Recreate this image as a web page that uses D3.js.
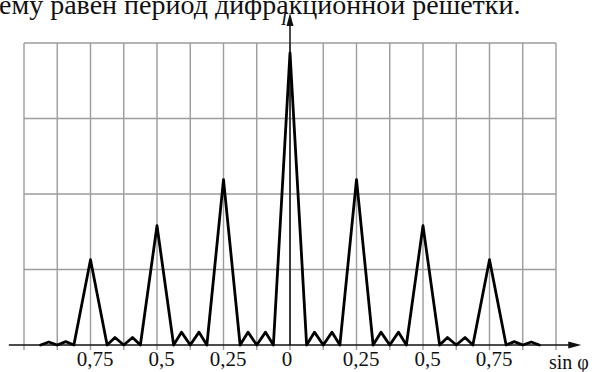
<!DOCTYPE html>
<html>
<head>
<meta charset="utf-8">
<script src="https://cdn.jsdelivr.net/npm/d3@7"></script>
<style>
  html, body { margin: 0; padding: 0; background: #fff; }
  svg { display: block; }
  text { font-family: 'Liberation Serif', 'Times New Roman', serif; }
</style>
</head>
<body>
<svg id="chart" width="594" height="372"></svg>
<script>
// ---- data ----
const titleText = "ему равен период дифракционной решетки.";
const principalSin = [-0.75, -0.5, -0.25, 0, 0.25, 0.5, 0.75];
const principalI   = [1.13, 1.58, 2.19, 3.87, 2.19, 1.58, 1.13];
const minimaSin = [-0.9375, -0.875, -0.8125, -0.6875, -0.625, -0.5625, -0.4375, -0.375, -0.3125,
                   -0.1875, -0.125, -0.0625, 0.0625, 0.125, 0.1875, 0.3125, 0.375, 0.4375,
                   0.5625, 0.625, 0.6875, 0.8125, 0.875, 0.9375];
const secondarySin = [-0.907, -0.843, -0.658, -0.592, -0.408, -0.342, -0.158, -0.092,
                      0.092, 0.158, 0.342, 0.408, 0.592, 0.658, 0.843, 0.907];
const secondaryI   = [0.04, 0.045, 0.1, 0.1, 0.17, 0.17, 0.17, 0.17,
                      0.17, 0.17, 0.17, 0.17, 0.1, 0.1, 0.045, 0.04];
const tickSin = [-0.75, -0.5, -0.25, 0, 0.25, 0.5, 0.75];
const tickLabels = ["0,75", "0,5", "0,25", "0", "0,25", "0,5", "0,75"];
const gridSinStep = 0.125;
const gridIValues = [1, 2, 3, 4];
const xLabel = "sin φ";
const yLabel = "I";

// ---- build curve ----
const points = []
  .concat(principalSin.map((s, i) => [s, principalI[i]]))
  .concat(minimaSin.map(s => [s, 0]))
  .concat(secondarySin.map((s, i) => [s, secondaryI[i]]))
  .sort((a, b) => a[0] - b[0]);

const svg = d3.select("#chart");
const x = d3.scaleLinear().domain([-1, 1]).range([24, 556]);
const y = d3.scaleLinear().domain([0, 4]).range([345, 43]);

// title
svg.append("text")
  .attr("x", -1).attr("y", 14)
  .attr("font-size", 28)
  .attr("fill", "#111")
  .text(titleText);

// grid
const gridColor = "#9c9c9c";
const gx = d3.range(-1, 1 + 1e-9, gridSinStep);
svg.append("g").selectAll("line").data(gx).join("line")
  .attr("x1", d => x(d)).attr("x2", d => x(d))
  .attr("y1", y(4)).attr("y2", y(0) + 5)
  .attr("stroke", gridColor).attr("stroke-width", 1.4);
svg.append("g").selectAll("line").data(gridIValues).join("line")
  .attr("x1", x(-1)).attr("x2", x(1))
  .attr("y1", d => y(d)).attr("y2", d => y(d))
  .attr("stroke", gridColor).attr("stroke-width", 1.4);

// axes
const axisColor = "#111";
const x0 = x(-1.057), x1 = x(1.095), yb = y(0);
svg.append("line").attr("x1", x0).attr("x2", x1 - 8).attr("y1", yb).attr("y2", yb)
  .attr("stroke", axisColor).attr("stroke-width", 1.5);
svg.append("path")
  .attr("d", `M${x1},${yb} L${x1 - 13},${yb - 3.5} L${x1 - 13},${yb + 3.5} Z`)
  .attr("fill", axisColor);
const xa = x(0), ytop = 13;
svg.append("line").attr("x1", xa).attr("x2", xa).attr("y1", yb).attr("y2", ytop + 8)
  .attr("stroke", axisColor).attr("stroke-width", 1.5);
svg.append("path")
  .attr("d", `M${xa},${ytop} L${xa - 3.5},${ytop + 13} L${xa + 3.5},${ytop + 13} Z`)
  .attr("fill", axisColor);

// curve
const line = d3.line().x(d => x(d[0])).y(d => y(d[1])).curve(d3.curveLinear);
svg.append("path")
  .datum(points)
  .attr("d", line)
  .attr("fill", "none")
  .attr("stroke", "#000")
  .attr("stroke-width", 2.8)
  .attr("stroke-linejoin", "round")
  .attr("stroke-linecap", "round");

// tick labels
svg.append("g").selectAll("text").data(tickSin).join("text")
  .attr("x", d => x(d) + (d === 0 ? -3 : 4.5))
  .attr("y", 366)
  .attr("text-anchor", "middle")
  .attr("font-size", 21)
  .attr("fill", "#111")
  .text((d, i) => tickLabels[i]);

// axis labels
svg.append("text")
  .attr("x", 287).attr("y", 25)
  .attr("text-anchor", "end")
  .attr("font-style", "italic")
  .attr("font-size", 18)
  .attr("fill", "#111")
  .text(yLabel);
svg.append("text")
  .attr("x", 549).attr("y", 369)
  .attr("font-size", 20)
  .attr("fill", "#111")
  .text(xLabel);
</script>
</body>
</html>
